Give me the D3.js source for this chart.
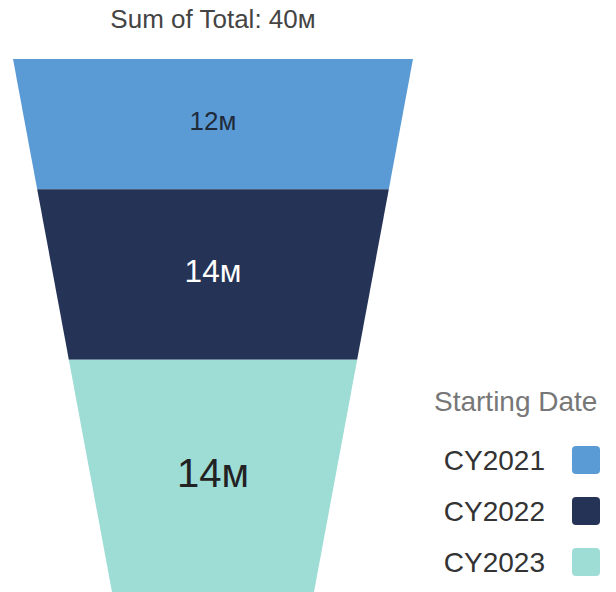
<!DOCTYPE html>
<html>
<head>
<meta charset="utf-8">
<script src="https://cdn.jsdelivr.net/npm/d3@7"></script>
<style>
  body { margin: 0; background: #fff; }
  text { font-family: "Liberation Sans", Arial, sans-serif; }
</style>
</head>
<body>
<div id="chart"></div>
<script>
// data
var categories = ["CY2021", "CY2022", "CY2023"];
var totals = [12.2, 13.6, 14.2]; // millions
var colors = ["#5b9bd5", "#253356", "#9edcd6"];
var labelColors = ["#1f2b3a", "#ffffff", "#222222"];
var legendTitle = "Starting Date";
var measureName = "Sum of Total";

var width = 616, height = 592;
var funnel = {top: 59, bottom: 592, cx: 213, topWidth: 400, bottomWidth: 202};

var svg = d3.select("#chart").append("svg")
    .attr("width", width)
    .attr("height", height);

// scales: t is 0..1 down the funnel
var yScale = d3.scaleLinear().domain([0, 1]).range([funnel.top, funnel.bottom]);
var wScale = d3.scaleLinear().domain([0, 1]).range([funnel.topWidth, funnel.bottomWidth]);

var fmt = function(v) { return Math.round(v) + "м"; };
var sum = d3.sum(totals);

// area under the trapezoid is proportional to value -> solve for t
var a = funnel.topWidth, k = (funnel.topWidth - funnel.bottomWidth) / 2;
function tForFraction(f) {
    var total = a - k;
    if (f <= 0) return 0;
    if (f >= 1) return 1;
    return (a - Math.sqrt(a * a - 4 * k * total * f)) / (2 * k);
}

var cum = 0;
var segs = totals.map(function(v, i) {
    var t0 = tForFraction(cum / sum);
    cum += v;
    var t1 = tForFraction(cum / sum);
    return {key: categories[i], value: v, t0: t0, t1: t1, i: i};
});

var fontScale = d3.scaleLinear().domain([130, 232]).range([26, 40]);

svg.selectAll("path.seg")
    .data(segs)
    .enter().append("path")
    .attr("class", "seg")
    .attr("d", function(d) {
        var y0 = yScale(d.t0), y1 = yScale(d.t1);
        var w0 = wScale(d.t0) / 2, w1 = wScale(d.t1) / 2;
        return "M" + (funnel.cx - w0) + "," + y0 +
            "L" + (funnel.cx + w0) + "," + y0 +
            "L" + (funnel.cx + w1) + "," + y1 +
            "L" + (funnel.cx - w1) + "," + y1 + "Z";
    })
    .style("fill", function(d) { return colors[d.i]; });

svg.selectAll("text.lbl")
    .data(segs)
    .enter().append("text")
    .attr("class", "lbl")
    .attr("x", funnel.cx)
    .attr("y", function(d) { return (yScale(d.t0) + yScale(d.t1)) / 2 - 3; })
    .attr("text-anchor", "middle")
    .attr("dominant-baseline", "central")
    .style("font-size", function(d) { return fontScale(yScale(d.t1) - yScale(d.t0)) + "px"; })
    .style("fill", function(d) { return labelColors[d.i]; })
    .text(function(d) { return fmt(d.value); });

// title
svg.append("text")
    .attr("x", funnel.cx)
    .attr("y", 28)
    .attr("text-anchor", "middle")
    .style("font-size", "26px")
    .style("fill", "#444")
    .text(measureName + ": " + fmt(sum));

// legend
var legend = svg.append("g");
legend.append("text")
    .attr("x", 434)
    .attr("y", 411)
    .style("font-size", "28px")
    .style("fill", "#777")
    .text(legendTitle);

var items = legend.selectAll("g.item")
    .data(categories)
    .enter().append("g")
    .attr("class", "item")
    .attr("transform", function(d, i) { return "translate(0," + (460 + i * 51) + ")"; });

items.append("text")
    .attr("x", 545)
    .attr("y", 0)
    .attr("text-anchor", "end")
    .attr("dominant-baseline", "central")
    .style("font-size", "28px")
    .style("fill", "#333")
    .text(function(d) { return d; });

items.append("rect")
    .attr("x", 572)
    .attr("y", -14)
    .attr("width", 28)
    .attr("height", 28)
    .attr("rx", 4)
    .style("fill", function(d, i) { return colors[i]; });
</script>
</body>
</html>
